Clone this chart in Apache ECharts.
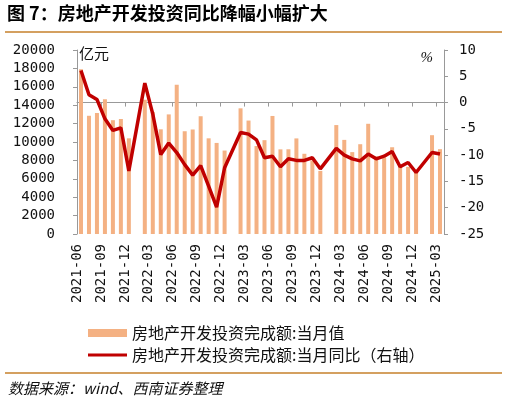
<!DOCTYPE html>
<html><head><meta charset="utf-8">
<script src="https://cdn.jsdelivr.net/npm/echarts@6/dist/echarts.min.js"></script>
<style>html,body{margin:0;padding:0;background:#fff}#c{width:507px;height:406px}</style>
</head><body><div id="c"></div>
<script>
var categories = ["2021-06","2021-07","2021-08","2021-09","2021-10","2021-11","2021-12",
"2022-01","2022-02","2022-03","2022-04","2022-05","2022-06","2022-07","2022-08","2022-09","2022-10","2022-11","2022-12",
"2023-01","2023-02","2023-03","2023-04","2023-05","2023-06","2023-07","2023-08","2023-09","2023-10","2023-11","2023-12",
"2024-01","2024-02","2024-03","2024-04","2024-05","2024-06","2024-07","2024-08","2024-09","2024-10","2024-11","2024-12",
"2025-01","2025-02","2025-03"];
var monthlyValue = [17900,12850,13150,14640,12370,12500,10400,
null,14600,13270,11380,13000,16220,11170,11360,12800,10400,9900,9070,
null,13660,12330,9560,10200,12830,9200,9210,10390,8720,8000,6860,
null,11840,10230,8900,9760,11980,8440,8300,9430,7450,7300,6720,
null,10740,9220];
var monthlyYoY = [6.1,1.5,0.6,-3.1,-5.3,-4.8,-13.0,
null,3.7,-2.2,-9.9,-7.7,-9.5,-11.8,-13.8,-12.0,-15.9,-19.9,-12.4,
null,-5.7,-6.0,-7.1,-10.5,-10.2,-12.2,-10.7,-11.0,-11.0,-10.5,-12.6,
null,-8.7,-10.0,-10.7,-11.1,-9.8,-10.7,-10.2,-9.3,-12.2,-11.4,-13.3,
null,-9.5,-9.8];
var barName = "房地产开发投资完成额:当月值";
var lineName = "房地产开发投资完成额:当月同比（右轴）";
var titleText = "图 7：房地产开发投资同比降幅小幅扩大";
var sourceText = "数据来源：wind、西南证券整理";

var boundaryLabels = categories.concat([""]);
var mono = "DejaVu Sans Mono";
var cjk = "Noto Sans CJK SC";
var chart = echarts.init(document.getElementById('c'), null, {renderer:'canvas'});
chart.setOption({
  animation:false,
  backgroundColor:'#fff',
  title:{text:titleText,left:7,top:4,padding:0,
    textStyle:{fontSize:18,fontWeight:'bold',fontFamily:cjk,color:'#000'}},
  grid:{left:77,right:63,top:50,bottom:172,containLabel:false},
  legend:{orient:'vertical',left:83,top:320,itemWidth:39,itemHeight:8,itemGap:6,
    textStyle:{fontSize:16,fontFamily:cjk,color:'#111'},
    data:[{name:barName,icon:'rect'},
          {name:lineName,icon:'path://M0,0 L39,0 L39,3 L0,3 Z',itemStyle:{color:'#C00000'}}]},
  xAxis:[
    {type:'category',data:categories,boundaryGap:true,show:false},
    {type:'category',data:boundaryLabels,boundaryGap:false,position:'bottom',
     axisLine:{show:true,lineStyle:{color:'#999',width:1}},
     axisTick:{show:true,length:4,lineStyle:{color:'#999'},interval:function(i){return i%3===0;}},
     axisLabel:{rotate:90,margin:10,fontSize:14,fontFamily:mono,color:'#111',
       interval:function(i){return i%3===0 && i<categories.length;}},
     splitLine:{show:false}}
  ],
  yAxis:[
    {type:'value',min:0,max:20000,interval:2000,position:'left',
     name:'亿元',nameLocation:'end',nameGap:-3,
     nameTextStyle:{fontSize:15,fontFamily:cjk,color:'#111',align:'left',verticalAlign:'middle',padding:[0,0,0,2]},
     axisLine:{show:true,lineStyle:{color:'#999'}},
     axisTick:{show:true,length:4,lineStyle:{color:'#999'}},
     axisLabel:{margin:22,fontSize:14,fontFamily:mono,color:'#111',formatter:function(v){return String(v);}},
     splitLine:{show:false}},
    {type:'value',min:-25,max:10,interval:5,position:'right',
     name:'%',nameLocation:'end',nameGap:-8,
     nameTextStyle:{fontSize:15,fontFamily:'Liberation Serif',fontStyle:'italic',color:'#111',align:'right',verticalAlign:'middle',padding:[0,11,0,0]},
     axisLine:{show:true,lineStyle:{color:'#999'}},
     axisTick:{show:true,length:4,lineStyle:{color:'#999'}},
     axisLabel:{margin:15,fontSize:14,fontFamily:mono,color:'#111',formatter:function(v){return String(v);}},
     splitLine:{show:false}}
  ],
  series:[
    {name:barName,type:'bar',xAxisIndex:0,yAxisIndex:0,data:monthlyValue,barWidth:4,
     itemStyle:{color:'#F4B183'}},
    {name:lineName,type:'line',xAxisIndex:0,yAxisIndex:1,data:monthlyYoY,connectNulls:true,
     symbol:'none',lineStyle:{color:'#C00000',width:3.5},itemStyle:{color:'#C00000'},z:5}
  ],
  graphic:{elements:[
    {type:'rect',z:100,shape:{x:5,y:31,width:497,height:2},style:{fill:'#D4A060'}},
    {type:'rect',z:100,shape:{x:5,y:372,width:497,height:2},style:{fill:'#D4A060'}},
    {type:'text',left:8,top:381,z:100,style:{text:sourceText,fontSize:15,fontStyle:'italic',fontFamily:cjk,fill:'#111'}}
  ]}
});
</script>
</body></html>
